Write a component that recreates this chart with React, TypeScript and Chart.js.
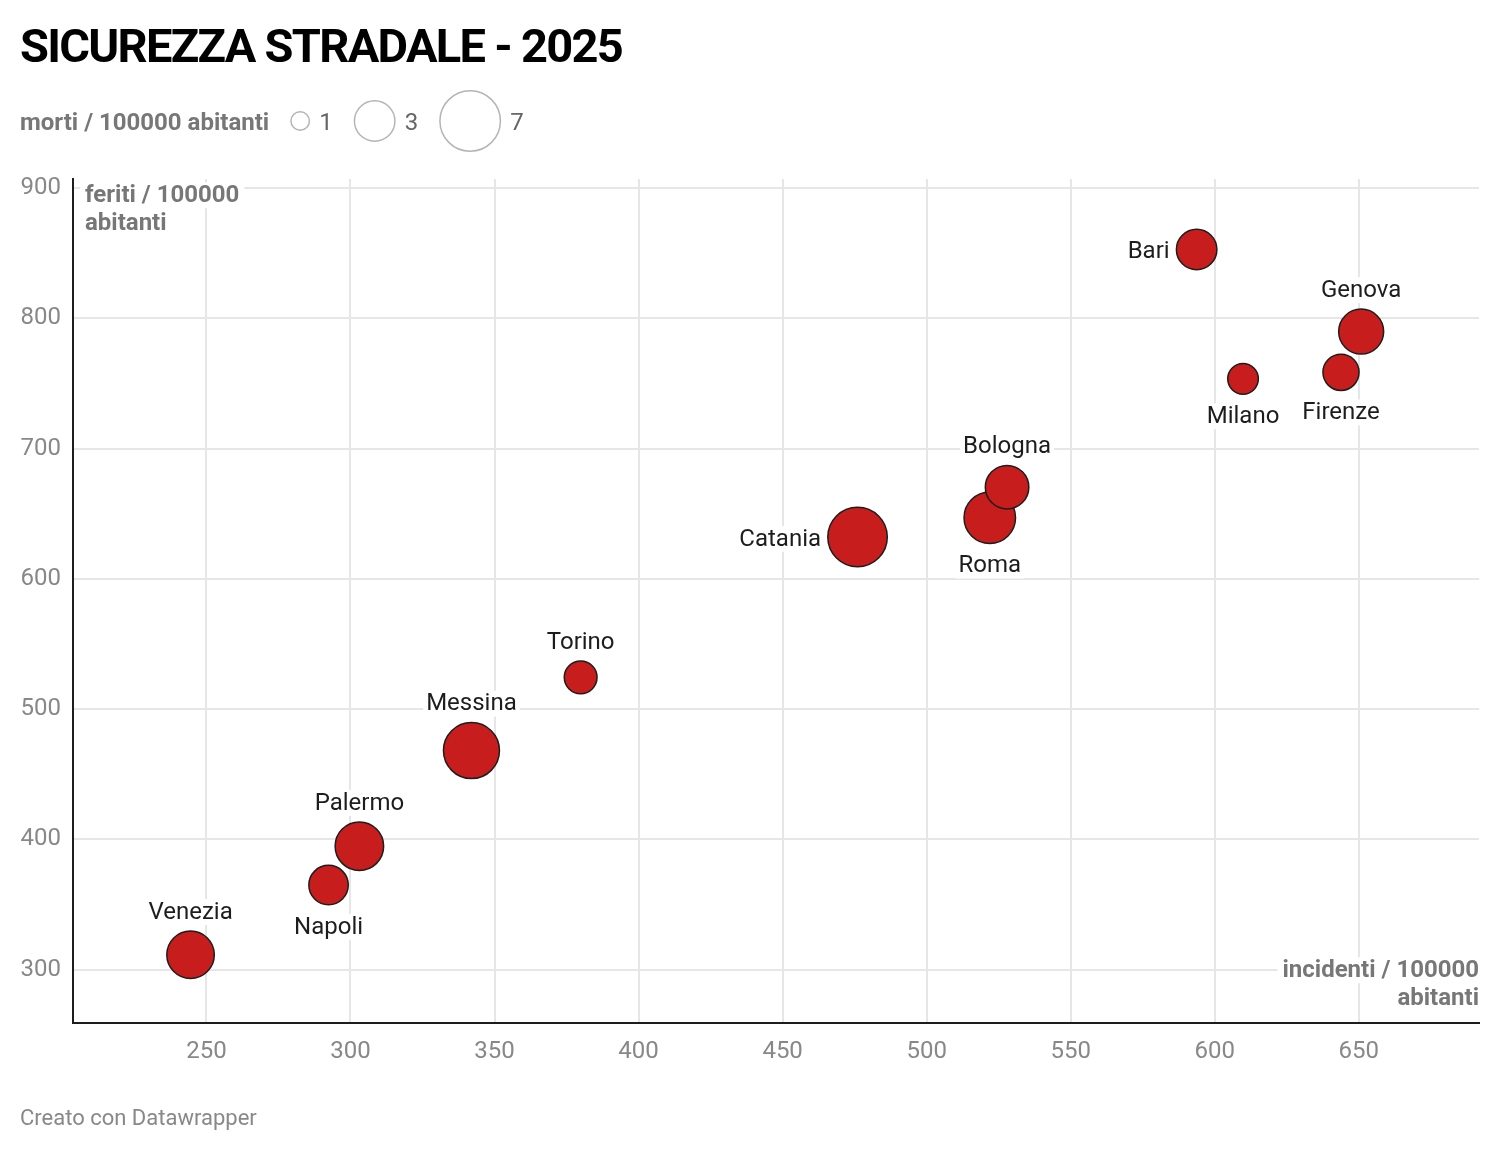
import React, { useEffect, useRef } from 'react';
import { Chart, registerables } from 'chart.js';

Chart.register(...registerables);

// ---------- data ----------
const cities = ['Venezia', 'Napoli', 'Palermo', 'Messina', 'Torino', 'Catania', 'Roma', 'Bologna', 'Bari', 'Milano', 'Firenze', 'Genova'];
const incidenti = [244.5, 292.4, 303.1, 342.0, 379.9, 476.0, 521.9, 527.9, 593.7, 609.8, 643.8, 650.8];
const feriti = [311.5, 365.0, 394.8, 468.2, 524.4, 632.1, 646.9, 670.4, 852.8, 753.5, 758.5, 789.8];
const morti = [4.4, 2.9, 4.6, 6.1, 2.3, 6.8, 5.2, 3.6, 3.0, 2.1, 2.6, 3.9];
const xTicks = [250, 300, 350, 400, 450, 500, 550, 600, 650];
const yTicks = [300, 400, 500, 600, 700, 800, 900];
const sizeLegendValues = [1, 3, 7];

const TITLE = 'SICUREZZA STRADALE - 2025';
const LEGEND_TITLE = 'morti / 100000 abitanti';
const Y_TITLE = ['feriti / 100000', 'abitanti'];
const X_TITLE = ['incidenti / 100000', 'abitanti'];
const FOOTER = 'Creato con Datawrapper';

// ---------- layout / style config ----------
const labelSide: Record<string, string> = {
  Venezia: 'top', Napoli: 'bottom', Palermo: 'top', Messina: 'top', Torino: 'top', Catania: 'left',
  Roma: 'bottom', Bologna: 'top', Bari: 'left', Milano: 'bottom', Firenze: 'bottom', Genova: 'top',
};
const SIZE_SCALE = { domain: [0, 1, 3, 7], range: [0, 10, 21, 31] };
const FONT = 'Roboto, "Noto Sans", sans-serif';
const RED = '#c71e1d';
const DARK = '#1d1d1d';
const GRID = '#e6e6e6';
const TICK = '#888888';
const AXIS_TITLE = '#777777';

function radiusFor(v: number): number {
  const d = SIZE_SCALE.domain, r = SIZE_SCALE.range;
  for (let i = 1; i < d.length; i++) {
    if (v <= d[i]) return r[i - 1] + ((v - d[i - 1]) / (d[i] - d[i - 1])) * (r[i] - r[i - 1]);
  }
  const n = d.length - 1;
  return r[n] + ((v - d[n]) / (d[n] - d[n - 1])) * (r[n] - r[n - 1]);
}

function boxedText(ctx: CanvasRenderingContext2D, text: string, x: number, baseline: number, align: 'left' | 'right' | 'center', size: number, color: string, pad = 4) {
  const w = ctx.measureText(text).width;
  let left = x;
  if (align === 'right') left = x - w;
  if (align === 'center') left = x - w / 2;
  ctx.fillStyle = '#ffffff';
  ctx.fillRect(left - pad, baseline - size * 0.82, w + pad * 2, size * 1.08);
  ctx.fillStyle = color;
  ctx.textAlign = align;
  ctx.textBaseline = 'alphabetic';
  ctx.fillText(text, x, baseline);
}

const decorPlugin = {
  id: 'decor',
  beforeDatasetsDraw(chart: any) {
    const ctx: CanvasRenderingContext2D = chart.ctx;
    const a = chart.chartArea;
    ctx.save();
    const s = 24;
    ctx.font = `bold ${s}px ${FONT}`;
    boxedText(ctx, Y_TITLE[0], a.left + 12, a.top + 23, 'left', s, AXIS_TITLE, 5);
    boxedText(ctx, Y_TITLE[1], a.left + 12, a.top + 51, 'left', s, AXIS_TITLE, 5);
    boxedText(ctx, X_TITLE[0], a.right, a.bottom - 46, 'right', s, AXIS_TITLE, 5);
    boxedText(ctx, X_TITLE[1], a.right, a.bottom - 18, 'right', s, AXIS_TITLE, 5);
    ctx.restore();
  },
  afterDatasetsDraw(chart: any) {
    const ctx: CanvasRenderingContext2D = chart.ctx;
    const meta = chart.getDatasetMeta(0);
    const size = 24;
    const capH = size * 0.711;
    ctx.save();
    ctx.font = `${size}px ${FONT}`;
    cities.forEach((name, i) => {
      const el = meta.data[i];
      const R = radiusFor(morti[i]);
      const side = labelSide[name];
      if (side === 'top') {
        boxedText(ctx, name, el.x, el.y - R - 11.5, 'center', size, '#1d1d1d', 3);
      } else if (side === 'bottom') {
        boxedText(ctx, name, el.x, el.y + R + 11 + capH, 'center', size, '#1d1d1d', 3);
      } else {
        boxedText(ctx, name, el.x - R - 6, el.y + capH / 2, 'right', size, '#1d1d1d', 3);
      }
    });
    ctx.restore();
  },
  afterDraw(chart: any) {
    const ctx: CanvasRenderingContext2D = chart.ctx;
    ctx.save();
    // title
    ctx.fillStyle = '#000000';
    ctx.font = `bold 47px ${FONT}`;
    ctx.textAlign = 'left';
    ctx.textBaseline = 'alphabetic';
    (ctx as any).letterSpacing = '-1.7px';
    ctx.fillText(TITLE, 20, 62);
    (ctx as any).letterSpacing = '0px';
    // size legend
    const cy = 121;
    ctx.font = `bold 24px ${FONT}`;
    ctx.fillStyle = AXIS_TITLE;
    ctx.fillText(LEGEND_TITLE, 20, cy + 8.5);
    let x = 20 + ctx.measureText(LEGEND_TITLE).width + 21;
    ctx.font = `24px ${FONT}`;
    sizeLegendValues.forEach((v) => {
      const r = radiusFor(v);
      ctx.beginPath();
      ctx.arc(x + r, cy, r - 0.75, 0, Math.PI * 2);
      ctx.strokeStyle = '#b5b5b5';
      ctx.lineWidth = 1.5;
      ctx.stroke();
      x += 2 * r + 9;
      ctx.fillStyle = '#666666';
      ctx.fillText(String(v), x, cy + 8.5);
      x += ctx.measureText(String(v)).width + 21;
    });
    // footer
    ctx.font = `22px ${FONT}`;
    ctx.fillStyle = TICK;
    ctx.fillText(FOOTER, 20, 1125);
    ctx.restore();
  },
};

export default function App() {
  const ref = useRef<HTMLCanvasElement | null>(null);
  useEffect(() => {
    document.body.style.margin = '0';
    let chart: Chart | null = null;
    let cancelled = false;
    const build = () => {
      if (cancelled || !ref.current) return;
      chart = new Chart(ref.current, {
        type: 'bubble',
        data: {
          datasets: [
            {
              data: cities.map((c, i) => ({ x: incidenti[i], y: feriti[i], r: radiusFor(morti[i]) - 0.75 })),
              backgroundColor: RED,
              borderColor: DARK,
              borderWidth: 1.5,
              hoverRadius: 0,
              hoverBorderWidth: 1.5,
            } as any,
          ],
        },
        options: {
          animation: false,
          responsive: false,
          maintainAspectRatio: false,
          events: [],
          layout: { autoPadding: false, padding: { top: 179, right: 21, left: 0, bottom: 0 } },
          plugins: { legend: { display: false }, tooltip: { enabled: false }, title: { display: false } },
          scales: {
            x: {
              type: 'linear',
              min: 203.7,
              max: 691.7,
              afterBuildTicks: (s: any) => { s.ticks = xTicks.map((v) => ({ value: v })); },
              afterFit: (s: any) => { s.height = 127; s.paddingLeft = 0; s.paddingRight = 0; },
              grid: { color: GRID, lineWidth: 2, drawTicks: false },
              border: { display: true, color: DARK, width: 2 },
              ticks: { padding: 15, color: TICK, font: { family: FONT, size: 24 } },
            },
            y: {
              type: 'linear',
              min: 259.1,
              max: 906.9,
              afterBuildTicks: (s: any) => { s.ticks = yTicks.map((v) => ({ value: v })); },
              afterFit: (s: any) => { s.width = 73; s.paddingTop = 0; s.paddingBottom = 0; },
              grid: { color: GRID, lineWidth: 2, drawTicks: false },
              border: { display: true, color: DARK, width: 2 },
              ticks: { padding: 12, color: TICK, font: { family: FONT, size: 24 } },
            },
          },
        },
        plugins: [decorPlugin as any],
      });
    };
    const fontsReady = (document as any).fonts
      ? Promise.all([
          (document as any).fonts.load(`bold 47px Roboto`),
          (document as any).fonts.load(`24px Roboto`),
        ]).catch(() => null)
      : Promise.resolve(null);
    fontsReady.then(build);
    return () => {
      cancelled = true;
      if (chart) chart.destroy();
    };
  }, []);
  return (
    <div style={{ position: 'absolute', left: 0, top: 0, width: 1500, height: 1150, background: '#fff' }}>
      <canvas ref={ref} width={1500} height={1150} style={{ width: 1500, height: 1150, display: 'block' }} />
    </div>
  );
}
